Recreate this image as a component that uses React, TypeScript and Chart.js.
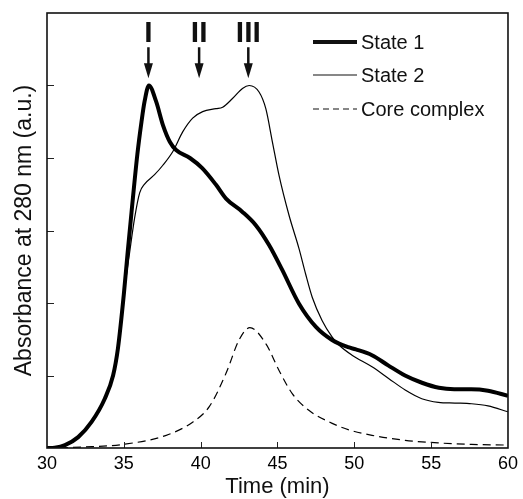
import React, { useEffect, useRef } from "react";
import { Chart, registerables } from "chart.js";

Chart.register(...registerables);

// ---- data ----
const state1Times = [30, 30.5, 31.17, 32.03, 32.9, 33.76, 34.3, 34.62, 35.0, 35.25, 35.5, 35.88, 36.15, 36.35, 36.63, 37.1, 37.55, 38.0, 38.4, 39.3, 40.1, 41.0, 41.65, 42.7, 43.6, 44.45, 45.3, 46.4, 47.5, 48.55, 49.6, 50.1, 51.15, 52.2, 53.3, 54.4, 55.5, 56.5, 57.6, 58.7, 60];
const state1Values = [0, 0.005, 0.04, 0.15, 0.36, 0.68, 1.0, 1.38, 2.12, 2.7, 3.25, 4.05, 4.5, 4.78, 5.0, 4.78, 4.45, 4.22, 4.11, 4.0, 3.86, 3.63, 3.44, 3.26, 3.07, 2.8, 2.46, 1.99, 1.67, 1.49, 1.39, 1.36, 1.28, 1.14, 1.0, 0.9, 0.83, 0.81, 0.81, 0.79, 0.72];

const state2Times = [30, 30.5, 31.17, 32.03, 32.9, 33.76, 34.3, 34.65, 35.06, 35.38, 35.7, 36.03, 36.35, 37.0, 37.54, 38.19, 38.83, 39.48, 40.13, 41.0, 41.43, 42.07, 42.72, 43.16, 43.8, 44.24, 44.67, 45.1, 45.75, 46.4, 46.83, 47.26, 47.9, 48.56, 49.0, 49.85, 51.15, 52.23, 53.31, 54.39, 55.47, 56.55, 57.63, 58.7, 60];
const state2Values = [0, 0.005, 0.04, 0.15, 0.35, 0.66, 0.97, 1.36, 2.2, 2.7, 3.17, 3.52, 3.64, 3.77, 3.9, 4.09, 4.36, 4.55, 4.64, 4.68, 4.7, 4.82, 4.96, 5.0, 4.91, 4.68, 4.22, 3.76, 3.21, 2.75, 2.4, 2.08, 1.76, 1.53, 1.42, 1.28, 1.12, 0.96, 0.8, 0.68, 0.63, 0.62, 0.61, 0.58, 0.5];

const coreTimes = [30, 32.35, 34.95, 37.76, 39.5, 40.56, 41.65, 42.5, 43.2, 44.24, 45.1, 45.96, 47.04, 48.56, 49.64, 51.15, 53.31, 55.47, 57.63, 60];
const coreValues = [0, 0.014, 0.05, 0.175, 0.36, 0.57, 1.03, 1.49, 1.66, 1.44, 1.07, 0.75, 0.52, 0.34, 0.25, 0.175, 0.106, 0.07, 0.05, 0.04];

const seriesNames = ["State 1", "State 2", "Core complex"];
const xTickValues = [30, 35, 40, 45, 50, 55, 60];
const yTickValues = [0, 1, 2, 3, 4, 5, 6];

const markerTimes = [36.6, 39.9, 43.1];
const markerLabels = ["I", "II", "III"];
const markerTipValue = 5.1;

const FONT = '"Liberation Sans", Arial, Helvetica, sans-serif';

const toPoints = (xs: number[], ys: number[]) => xs.map((x, i) => ({ x, y: ys[i] }));

const decorPlugin = {
  id: "decor",
  afterDraw(chart: any) {
    const { ctx, chartArea, scales } = chart;
    const xs = scales.x;
    const ys = scales.y;
    const { left, right, top, bottom } = chartArea;
    ctx.save();

    // inner tick marks
    ctx.strokeStyle = "#222";
    ctx.lineWidth = 1;
    ctx.beginPath();
    yTickValues.forEach((v) => {
      if (v <= ys.min || v >= ys.max) return;
      const py = Math.round(ys.getPixelForValue(v)) + 0.5;
      ctx.moveTo(left, py);
      ctx.lineTo(left + 7, py);
    });
    xTickValues.forEach((v) => {
      if (v <= xs.min || v >= xs.max) return;
      const px = Math.round(xs.getPixelForValue(v)) + 0.5;
      ctx.moveTo(px, bottom);
      ctx.lineTo(px, bottom - 6);
    });
    ctx.stroke();

    // frame
    ctx.strokeStyle = "#111";
    ctx.lineWidth = 1.6;
    ctx.strokeRect(left, top, right - left, bottom - top);

    // arrows and roman numerals
    ctx.fillStyle = "#111";
    ctx.strokeStyle = "#111";
    markerTimes.forEach((t, i) => {
      const px = xs.getPixelForValue(t);
      const tip = ys.getPixelForValue(markerTipValue);
      ctx.lineWidth = 2.5;
      ctx.beginPath();
      ctx.moveTo(px, tip - 31);
      ctx.lineTo(px, tip - 12);
      ctx.stroke();
      ctx.beginPath();
      ctx.moveTo(px - 4.5, tip - 15);
      ctx.lineTo(px + 4.5, tip - 15);
      ctx.lineTo(px, tip);
      ctx.closePath();
      ctx.fill();
      ctx.font = `bold 30px ${FONT}`;
      ctx.textAlign = "center";
      ctx.textBaseline = "alphabetic";
      ctx.fillText(markerLabels[i], px, tip - 36);
    });

    // legend
    const legendX1 = 313;
    const legendX2 = 357;
    const rows = [
      { y: 42, w: 4, dash: [] as number[] },
      { y: 75, w: 1.2, dash: [] as number[] },
      { y: 109, w: 1.2, dash: [6, 4] },
    ];
    ctx.font = `20px ${FONT}`;
    ctx.textAlign = "left";
    ctx.textBaseline = "alphabetic";
    rows.forEach((r, i) => {
      ctx.lineWidth = r.w;
      ctx.setLineDash(r.dash);
      ctx.beginPath();
      ctx.moveTo(legendX1, r.y);
      ctx.lineTo(legendX2, r.y);
      ctx.stroke();
      ctx.setLineDash([]);
      ctx.fillText(seriesNames[i], legendX2 + 4, r.y + 7);
    });

    // axis titles
    ctx.font = `22px ${FONT}`;
    ctx.textAlign = "center";
    ctx.fillText("Time (min)", (left + right) / 2, 493);
    ctx.save();
    ctx.translate(31, (top + bottom) / 2);
    ctx.rotate(-Math.PI / 2);
    ctx.font = `23px ${FONT}`;
    ctx.fillText("Absorbance at 280 nm (a.u.)", 0, 0);
    ctx.restore();

    ctx.restore();
  },
};

export default function App() {
  const canvasRef = useRef<HTMLCanvasElement | null>(null);

  useEffect(() => {
    if (!canvasRef.current) return;
    Chart.defaults.font.family = FONT;
    const chart = new Chart(canvasRef.current, {
      type: "line",
      data: {
        datasets: [
          {
            label: seriesNames[0],
            data: toPoints(state1Times, state1Values),
            borderColor: "#000",
            borderWidth: 4,
            pointRadius: 0,
            cubicInterpolationMode: "monotone",
            fill: false,
          },
          {
            label: seriesNames[1],
            data: toPoints(state2Times, state2Values),
            borderColor: "#000",
            borderWidth: 1.2,
            pointRadius: 0,
            cubicInterpolationMode: "monotone",
            fill: false,
          },
          {
            label: seriesNames[2],
            data: toPoints(coreTimes, coreValues),
            borderColor: "#000",
            borderWidth: 1.2,
            borderDash: [8, 5],
            pointRadius: 0,
            cubicInterpolationMode: "monotone",
            fill: false,
          },
        ],
      },
      options: {
        responsive: false,
        animation: false,
        layout: { padding: { top: 13, right: 13, left: 0, bottom: 0 } },
        plugins: { legend: { display: false }, tooltip: { enabled: false } },
        scales: {
          x: {
            type: "linear",
            min: 30,
            max: 60,
            afterBuildTicks: (s: any) => {
              s.ticks = xTickValues.map((v) => ({ value: v }));
            },
            afterFit: (s: any) => {
              s.height = 51;
            },
            grid: { display: false, drawTicks: false },
            border: { display: false },
            ticks: { color: "#000", font: { size: 18 }, padding: 5, maxRotation: 0 },
          },
          y: {
            type: "linear",
            min: 0,
            max: 6,
            afterBuildTicks: (s: any) => {
              s.ticks = yTickValues.map((v) => ({ value: v }));
            },
            afterFit: (s: any) => {
              s.width = 47;
            },
            grid: { display: false, drawTicks: false },
            border: { display: false },
            ticks: { display: false },
          },
        },
      },
      plugins: [decorPlugin],
    } as any);
    return () => chart.destroy();
  }, []);

  return (
    <div style={{ position: "absolute", left: 0, top: 0, width: 523, height: 499, background: "#fff" }}>
      <canvas ref={canvasRef} width={523} height={499} style={{ width: 523, height: 499 }} />
    </div>
  );
}
